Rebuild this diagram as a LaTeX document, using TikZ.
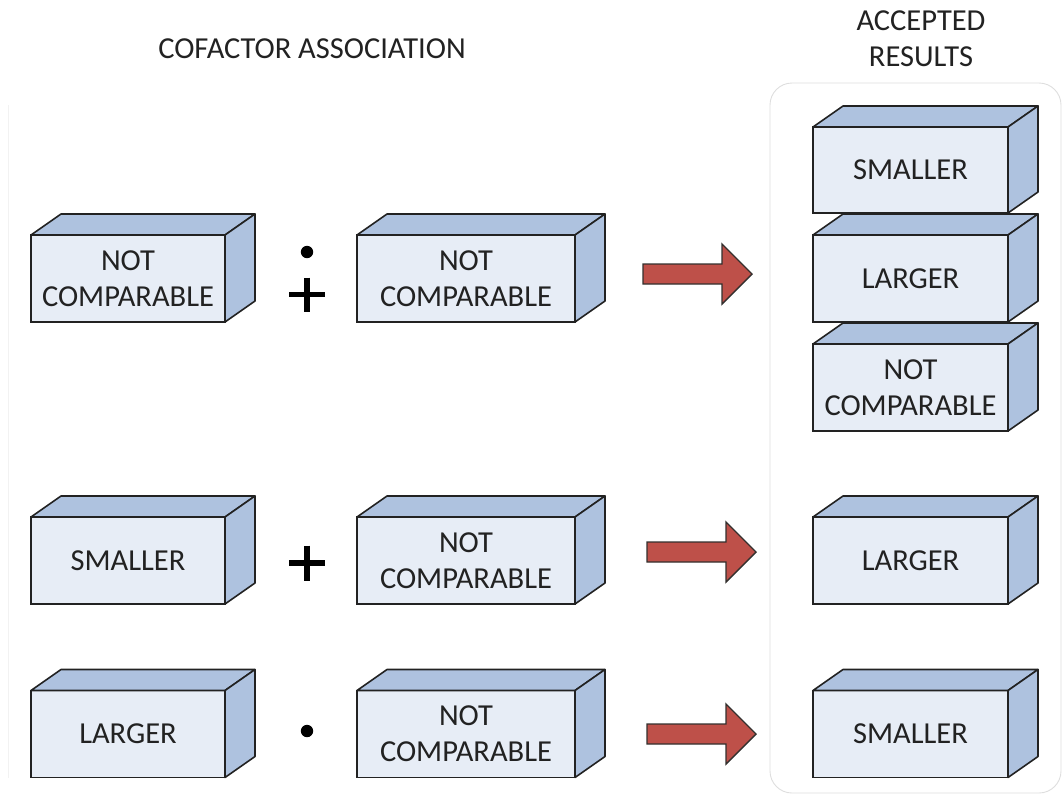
\documentclass[tikz,border=0pt]{standalone}
\usepackage{fontspec}
\setmainfont{Carlito}
\definecolor{frontcol}{HTML}{E7EDF6}
\definecolor{facecol}{HTML}{AEC2DF}
\definecolor{edgecol}{HTML}{222222}
\definecolor{txtcol}{HTML}{222222}
\definecolor{arrowfill}{HTML}{BE5049}
\definecolor{arrowedge}{HTML}{33302E}
\definecolor{framecol}{HTML}{DEDEDE}
\tikzset{
  frontbox/.style={draw=edgecol, fill=frontcol, line width=1.6pt, inner sep=0pt, outer sep=0pt,
    align=center, text=txtcol, font=\fontsize{30.5}{36}\selectfont},
  sideface/.style={draw=edgecol, fill=facecol, line width=1.6pt, line join=round},
  redarrow/.style={draw=arrowedge, fill=arrowfill, line width=1.4pt, line join=miter},
  titletext/.style={text=txtcol, font=\fontsize{30.5}{36}\selectfont, align=center, inner sep=0pt},
  opsign/.style={line width=5.4pt, draw=black}
}
\newcommand\cubebox[6]{%
  \node[frontbox, minimum width=#4pt, minimum height=#5pt] (#1) at (#2,#3) {#6};
  \path[sideface] (#1.north west) -- ++(30,-21) -- ([shift={(30,-21)}]#1.north east) -- (#1.north east) -- cycle;
  \path[sideface] (#1.north east) -- ++(30,-21) -- ([shift={(30,-21)}]#1.south east) -- (#1.south east) -- cycle;
}
\newcommand\bigarrow[4]{% x0, x1 (head start), x2 tip, cy
  \path[redarrow] (#1,#4-10) -- (#2,#4-10) -- (#2,#4-30) -- (#3,#4) -- (#2,#4+30) -- (#2,#4+10) -- (#1,#4+10) -- cycle;
}
\begin{document}
\begin{tikzpicture}[x=1pt,y=-1pt]
\useasboundingbox (0,0) rectangle (1063,796);
% frames
\draw[framecol, line width=0.9pt, rounded corners=22pt] (770,83) rectangle (1061,793);
\draw[color=black!5, line width=1pt] (8.5,105) -- (8.5,778);
% titles
\node[titletext] (t1) at (312,49) {COFACTOR ASSOCIATION};
\node[titletext] (t2) at (921,39) {ACCEPTED\\RESULTS};
% left column
\cubebox{a1}{128}{278.5}{194}{87}{NOT\\COMPARABLE}
\cubebox{b1}{466}{278.5}{218}{87}{NOT\\COMPARABLE}
\cubebox{a2}{128}{560.5}{194}{87}{SMALLER}
\cubebox{b2}{466}{560.5}{218}{87}{NOT\\COMPARABLE}
\cubebox{a3}{128}{734}{194}{87}{LARGER}
\cubebox{b3}{466}{734}{218}{87}{NOT\\COMPARABLE}
% results
\cubebox{r1}{910.5}{170}{195}{86}{SMALLER}
\cubebox{r2}{910.5}{278.5}{195}{87}{LARGER}
\cubebox{r3}{910.5}{387.5}{195}{87}{NOT\\COMPARABLE}
\cubebox{r4}{910.5}{560.5}{195}{87}{LARGER}
\cubebox{r5}{910.5}{734}{195}{87}{SMALLER}
% operators
\fill[black] (307,252) circle (6.2pt);
\draw[opsign] (289,294.5) -- (325,294.5) (307,277.5) -- (307,311.5);
\draw[opsign] (289,563) -- (325,563) (307,545.5) -- (307,580.5);
\fill[black] (307,731) circle (6.2pt);
% arrows
\bigarrow{643}{722}{752}{274}
\bigarrow{647}{726}{756}{552}
\bigarrow{647}{726}{756}{734}
\end{tikzpicture}
\end{document}
